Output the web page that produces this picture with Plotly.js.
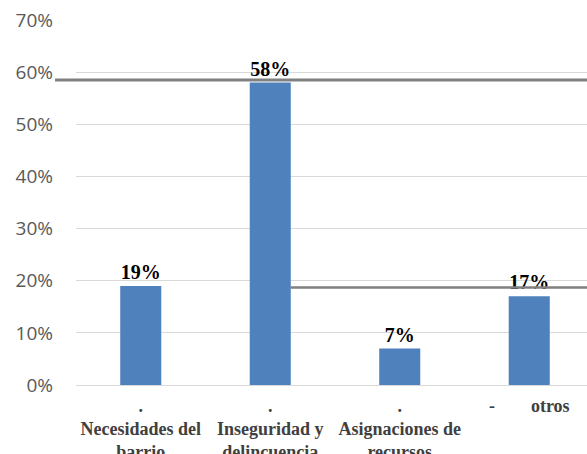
<!DOCTYPE html>
<html>
<head>
<meta charset="utf-8">
<script src="https://cdn.plot.ly/plotly-3.0.1.min.js"></script>
<style>html,body{margin:0;padding:0;background:#fff;overflow:hidden}</style>
</head>
<body>
<div id="chart" style="width:587px;height:454px"></div>
<script>
var categories = ["Necesidades del barrio", "Inseguridad y delincuencia", "Asignaciones de recursos", "otros"];
var values = [0.19, 0.58, 0.07, 0.17];
var valueLabels = ["19%", "58%", "7%", "17%"];
var tickLabels = [
  ".<br>Necesidades del<br>barrio",
  ".<br>Inseguridad y<br>delincuencia",
  ".<br>Asignaciones de<br>recursos",
  "-\u00A0\u00A0\u00A0\u00A0\u00A0\u00A0\u00A0\u00A0otros"
];
var yTicks = [0, 0.1, 0.2, 0.3, 0.4, 0.5, 0.6, 0.7];
var yTickLabels = ["0%", "10%", "20%", "30%", "40%", "50%", "60%", "70%"];
// stray dark rule lines present in the source image (level in data units)
var ruleLevels = [0.585, 0.187];

var trace = {
  type: "bar",
  x: categories,
  y: values,
  text: valueLabels,
  textposition: "outside",
  cliponaxis: false,
  textfont: {family: "Liberation Serif", size: 20, color: "#000000", weight: "bold"},
  marker: {color: "#4f81bd"},
  width: 0.317,
  hoverinfo: "none"
};

var layout = {
  width: 587,
  height: 454,
  margin: {l: 76, r: 0, t: 20, b: 68.5},
  paper_bgcolor: "#ffffff",
  plot_bgcolor: "#ffffff",
  showlegend: false,
  xaxis: {
    type: "category",
    range: [-0.5, 3.446],
    tickvals: categories,
    ticktext: tickLabels,
    tickfont: {family: "Liberation Serif", size: 18, color: "#404040", weight: "bold"},
    ticks: "",
    showgrid: false,
    showline: true,
    linecolor: "#d9d9d9",
    linewidth: 1,
    ticklabelstandoff: 4,
    fixedrange: true
  },
  yaxis: {
    range: [0, 0.7],
    tickvals: yTicks,
    ticktext: yTickLabels,
    tickfont: {family: "Open Sans", size: 19, color: "#595959"},
    showgrid: true,
    gridcolor: "#d9d9d9",
    gridwidth: 1,
    zeroline: false,
    ticks: "",
    ticklabelstandoff: 22,
    showline: false,
    fixedrange: true
  },
  shapes: [
    {type: "line", xref: "paper", yref: "y", x0: -0.041, x1: 1.01, y0: ruleLevels[0], y1: ruleLevels[0],
     line: {color: "#808080", width: 3}},
    {type: "line", xref: "paper", yref: "y", x0: 0.42, x1: 1.01, y0: ruleLevels[1], y1: ruleLevels[1],
     line: {color: "#808080", width: 2.5}}
  ]
};

Plotly.newPlot("chart", [trace], layout, {displayModeBar: false, staticPlot: true});
</script>
</body>
</html>
